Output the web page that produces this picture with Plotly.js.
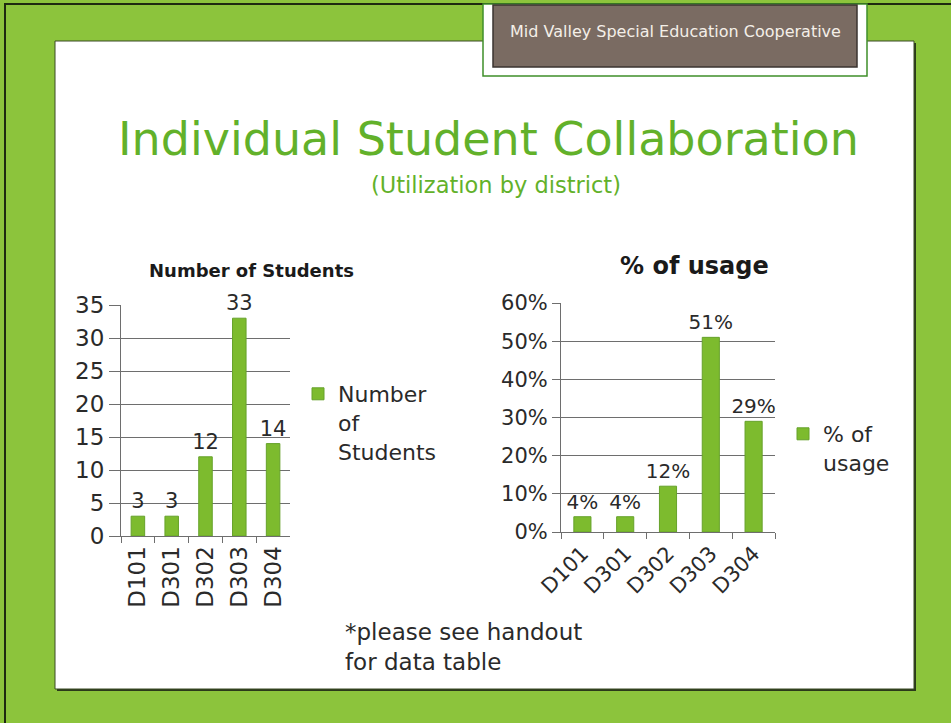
<!DOCTYPE html>
<html>
<head>
<meta charset="utf-8">
<script src="https://cdn.plot.ly/plotly-3.0.1.min.js"></script>
<style>html,body{margin:0;padding:0;background:#8cc43c;}#chart{width:951px;height:723px;}</style>
</head>
<body>
<div id="chart"></div>
<script>
const districts = ['D101', 'D301', 'D302', 'D303', 'D304'];
const studentCounts = [3, 3, 12, 33, 14];
const usageShare = [0.04, 0.04, 0.12, 0.51, 0.29];
const studentLabels = ['3', '3', '12', '33', '14'];
const usageLabels = ['4%', '4%', '12%', '51%', '29%'];

const FONT = '"DejaVu Sans", Lato, sans-serif';
const W = 951, H = 723;
const px = x => x / W;
const py = y => 1 - y / H;

const barColor = '#7dbb2e';
const barLine = '#66a22a';
const gridColor = '#6e6e6e';
const titleGreen = '#62b12a';
const textColor = '#2a2a2a';

const traces = [
  {
    type: 'bar', x: districts, y: studentCounts, name: 'Number<br>of<br>Students',
    text: studentLabels, textposition: 'outside', cliponaxis: false, constraintext: 'none',
    textfont: {family: FONT, size: 21, color: textColor},
    marker: {color: barColor, line: {color: barLine, width: 1}},
    width: 0.4, xaxis: 'x', yaxis: 'y', legend: 'legend', hoverinfo: 'skip'
  },
  {
    type: 'bar', x: districts, y: usageShare, name: '% of<br>usage',
    text: usageLabels, textposition: 'outside', cliponaxis: false, constraintext: 'none',
    textfont: {family: FONT, size: 20, color: textColor},
    marker: {color: barColor, line: {color: barLine, width: 1}},
    width: 0.4, xaxis: 'x2', yaxis: 'y2', legend: 'legend2', hoverinfo: 'skip'
  }
];

const axisCommon = {
  showline: true, linecolor: gridColor, linewidth: 1,
  fixedrange: true
};

const layout = {
  width: W, height: H,
  margin: {l: 0, r: 0, t: 0, b: 0},
  paper_bgcolor: '#8cc43c',
  plot_bgcolor: 'rgba(0,0,0,0)',
  showlegend: true,
  xaxis: Object.assign({}, axisCommon, {
    domain: [px(121), px(290)], anchor: 'y', type: 'category',
    tickfont: {family: FONT, size: 23, color: textColor},
    tickangle: -90, ticks: 'outside', tickson: 'boundaries', ticklen: 6, tickcolor: gridColor
  }),
  yaxis: Object.assign({}, axisCommon, {
    domain: [py(536), py(305)], anchor: 'x', range: [0, 35], dtick: 5,
    tickfont: {family: FONT, size: 23, color: textColor},
    showgrid: true, gridcolor: gridColor, gridwidth: 1, zeroline: false,
    ticks: 'outside', ticklen: 11, tickcolor: gridColor
  }),
  xaxis2: Object.assign({}, axisCommon, {
    domain: [px(561), px(775)], anchor: 'y2', type: 'category',
    tickfont: {family: FONT, size: 21, color: textColor},
    tickangle: -45, ticks: 'outside', tickson: 'boundaries', ticklen: 6, tickcolor: gridColor
  }),
  yaxis2: Object.assign({}, axisCommon, {
    domain: [py(532), py(303)], anchor: 'x2', range: [0, 0.6], dtick: 0.1, tickformat: '.0%',
    tickfont: {family: FONT, size: 21, color: textColor},
    showgrid: true, gridcolor: gridColor, gridwidth: 1, zeroline: false,
    ticks: 'outside', ticklen: 8, tickcolor: gridColor
  }),
  legend: {
    x: px(298), y: py(373), xanchor: 'left', yanchor: 'top', valign: 'top',
    bgcolor: 'rgba(0,0,0,0)', font: {family: FONT, size: 22, color: textColor},
    itemclick: false, itemdoubleclick: false
  },
  legend2: {
    x: px(783), y: py(413), xanchor: 'left', yanchor: 'top', valign: 'top',
    bgcolor: 'rgba(0,0,0,0)', font: {family: FONT, size: 22, color: textColor},
    itemclick: false, itemdoubleclick: false
  },
  shapes: [
    {type: 'rect', xref: 'paper', yref: 'paper', x0: px(5), x1: 1.01, y0: -0.01, y1: py(4),
     line: {color: '#1e2a10', width: 2}, fillcolor: 'rgba(0,0,0,0)', layer: 'below'},
    {type: 'rect', xref: 'paper', yref: 'paper', x0: px(57), x1: px(916), y0: py(691), y1: py(43),
     line: {width: 0}, fillcolor: '#2b3a1a', layer: 'below'},
    {type: 'rect', xref: 'paper', yref: 'paper', x0: px(55), x1: px(914), y0: py(689), y1: py(41),
     line: {color: '#3a4a25', width: 1}, fillcolor: '#ffffff', layer: 'below'},
    {type: 'rect', xref: 'paper', yref: 'paper', x0: px(483), x1: px(867), y0: py(76), y1: py(4),
     line: {color: '#3f8f2a', width: 1.5}, fillcolor: '#ffffff', layer: 'below'},
    {type: 'rect', xref: 'paper', yref: 'paper', x0: px(493), x1: px(857), y0: py(67), y1: py(5),
     line: {color: '#3b3430', width: 1.5}, fillcolor: '#7a6b62', layer: 'below'}
  ],
  annotations: [
    {text: 'Mid Valley Special Education Cooperative', xref: 'paper', yref: 'paper',
     x: px(675), y: py(32), showarrow: false, xanchor: 'center', yanchor: 'middle',
     font: {family: FONT, size: 16, color: '#f4efe8'}},
    {text: 'Individual Student Collaboration', xref: 'paper', yref: 'paper',
     x: px(488), y: py(139), showarrow: false, xanchor: 'center', yanchor: 'middle',
     font: {family: FONT, size: 46, color: titleGreen}},
    {text: '(Utilization by district)', xref: 'paper', yref: 'paper',
     x: px(496), y: py(185), showarrow: false, xanchor: 'center', yanchor: 'middle',
     font: {family: FONT, size: 22.5, color: titleGreen}},
    {text: '<b>Number of Students</b>', xref: 'paper', yref: 'paper',
     x: px(251), y: py(270), showarrow: false, xanchor: 'center', yanchor: 'middle',
     font: {family: FONT, size: 18, color: '#1a1a1a'}},
    {text: '<b>% of usage</b>', xref: 'paper', yref: 'paper',
     x: px(694), y: py(266), showarrow: false, xanchor: 'center', yanchor: 'middle',
     font: {family: FONT, size: 24, color: '#1a1a1a'}},
    {text: '*please see handout<br>for data table', xref: 'paper', yref: 'paper',
     x: px(343), y: py(647), showarrow: false, xanchor: 'left', yanchor: 'middle', align: 'left',
     font: {family: FONT, size: 23, color: textColor}}
  ]
};

Plotly.newPlot('chart', traces, layout, {staticPlot: true, displayModeBar: false});
</script>
</body>
</html>
